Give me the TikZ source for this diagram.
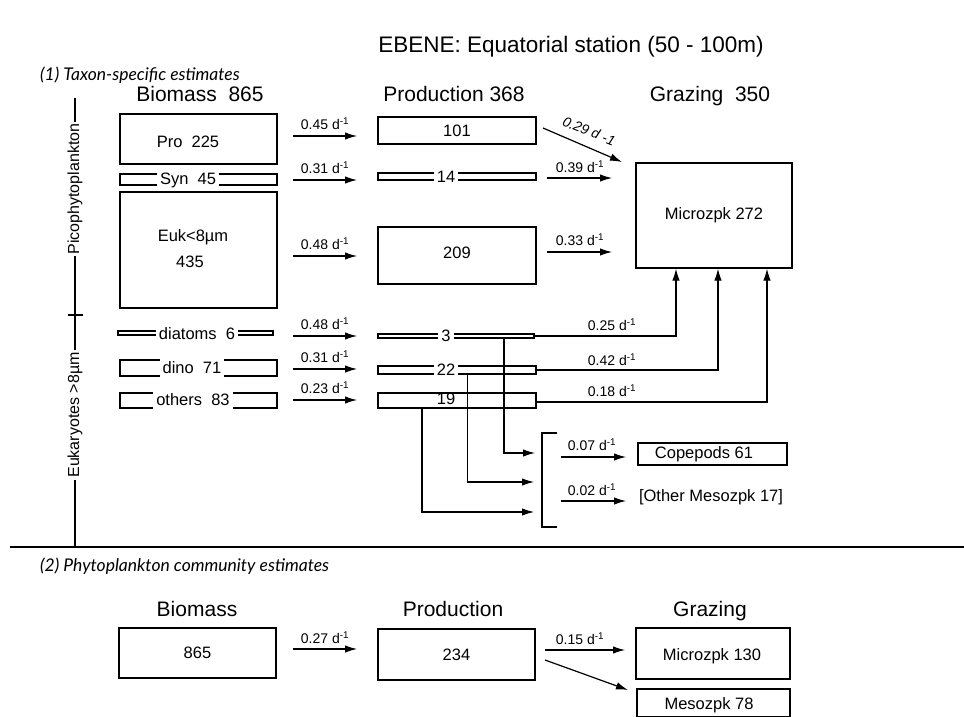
\documentclass[tikz,border=0pt]{standalone}
\usepackage{fontspec}
\setmainfont{Liberation Sans}
\newfontfamily\capfont{Lato}
\usetikzlibrary{arrows.meta,calc}
\newcommand{\ratelbl}[1]{#1 d\textsuperscript{-1}}
\begin{document}
\begin{tikzpicture}[x=1pt,y=-1pt,
  box/.style={draw,line width=1.2pt,inner sep=0pt},
  hdr/.style={font=\fontsize{21}{24}\selectfont, inner sep=0pt, anchor=base},
  body/.style={font=\fontsize{16.5}{19}\selectfont, inner sep=0pt},
  gap/.style={font=\fontsize{16.5}{19}\selectfont, fill=white, inner xsep=3pt, inner ysep=4pt},
  rt/.style={font=\fontsize{14}{16}\selectfont, inner sep=0pt},
  arr/.style={line width=1.2pt, -{Latex[length=12pt,width=7.5pt]}},
  ln/.style={line width=1.2pt},
  sect/.style={font=\capfont\itshape\fontsize{17.5}{20}\selectfont, anchor=west, inner sep=0pt}
]
\path[use as bounding box] (0,0) rectangle (964,717);

% titles
\node[hdr, font=\fontsize{22.5}{26}\selectfont] (title) at (571,53) {EBENE: Equatorial station (50 - 100m)};
\node[sect] (s1) at (40,75) {(1) Taxon-specific estimates};
\node[hdr] (hb) at (200,101) {Biomass\ \ 865};
\node[hdr] (hp) at (454,101) {Production 368};
\node[hdr] (hg) at (710,101) {Grazing\ \ 350};

% left axis
\draw[ln] (75,98) -- (75,547);
\draw[ln] (68,315) -- (83,315);
\node[body, rotate=90, fill=white, inner sep=2pt, font=\fontsize{16}{19}\selectfont] (pico) at (75,189) {Picophytoplankton};
\node[body, rotate=90, fill=white, inner sep=2pt, font=\fontsize{16}{19}\selectfont] (euka) at (75,415) {Eukaryotes >8µm};

% biomass boxes
\node[box, minimum width=157pt, minimum height=50pt] (pro) at (198.5,139) {};
\node[body] (protx) at (188,142) {Pro\ \ 225};
\node[box, minimum width=157pt, minimum height=11pt] (syn) at (198.5,179.5) {};
\node[gap] (syntx) at (188,180) {Syn\ \ 45};
\node[box, minimum width=157pt, minimum height=116pt] (euk) at (198.5,250) {};
\node[body] (euktx) at (193,237) {Euk<8µm};
\node[body] (euknum) at (190,262) {435};
\node[box, minimum width=155pt, minimum height=4pt] (diat) at (195.5,333) {};
\node[gap] (diattx) at (197,334) {diatoms\ \ 6};
\node[box, minimum width=157pt, minimum height=16pt] (dino) at (198.5,368) {};
\node[gap] (dinotx) at (192,368) {dino\ \ 71};
\node[box, minimum width=157pt, minimum height=15pt] (oth) at (198.5,400.5) {};
\node[gap] (othtx) at (193,400) {others\ \ 83};

% production boxes
\node[box, minimum width=158pt, minimum height=27pt] (p101) at (457,130.5) {};
\node[body] (p101tx) at (457,131) {101};
\node[box, minimum width=158pt, minimum height=7pt] (p14) at (457,176.5) {};
\node[gap] (p14tx) at (446,177) {14};
\node[box, minimum width=158pt, minimum height=57pt] (p209) at (457,255.5) {};
\node[body] (p209tx) at (457,253) {209};
\node[box, minimum width=156pt, minimum height=4pt] (p3) at (456,336) {};
\node[gap] (p3tx) at (446,336) {3};
\node[box, minimum width=158pt, minimum height=8pt] (p22) at (457,370) {};
\node[gap] (p22tx) at (446,370) {22};
\node[box, minimum width=158pt, minimum height=15pt] (p19) at (457,400.5) {};
\node[body] (p19tx) at (446,399) {19};

% biomass -> production arrows
\foreach \y/\r/\n in {136/0.45/a,180/0.31/b,256/0.48/c,336/0.48/d,369/0.31/e,400/0.23/f}{
  \coordinate (l\n s) at (293,\y);
  \coordinate (l\n e) at (357,\y);
  \draw[arr] (l\n s) -- (l\n e);
  \node[rt] (lr\n) at (325,\y-12) {\ratelbl{\r}};
}

% microzooplankton
\node[box, minimum width=156pt, minimum height=105pt, body] (mz) at (714,215.5) {Microzpk 272};

% production -> grazing arrows
\coordinate (d1s) at (543,128);
\coordinate (d1e) at (622,162);
\draw[arr] (d1s) -- (d1e);
\node[rt, rotate=-22] (d1l) at (589,131) {\itshape 0.29 d -1};
\coordinate (d2s) at (547,178);
\coordinate (d2e) at (612,178);
\draw[arr] (d2s) -- (d2e);
\node[rt] (d2l) at (580,167) {\ratelbl{0.39}};
\coordinate (d3s) at (547,252);
\coordinate (d3e) at (612,252);
\draw[arr] (d3s) -- (d3e);
\node[rt] (d3l) at (580,240) {\ratelbl{0.33}};

% up into Microzpk
\draw[arr] (p3.east) -| ([xshift=-38pt]mz.south);
\draw[arr] (p22.east) -| ([xshift=4pt]mz.south);
\draw[arr] ([yshift=-1.5pt]p19.east) -| ([xshift=53pt]mz.south);
\node[rt] (u1l) at (612,325) {\ratelbl{0.25}};
\node[rt] (u2l) at (612,360) {\ratelbl{0.42}};
\node[rt] (u3l) at (612,391) {\ratelbl{0.18}};

% down to mesozooplankton
\coordinate (m1) at (535,453);
\coordinate (m2) at (534,482);
\coordinate (m3) at (534,512);
\draw[arr] ([xshift=48pt]p3.south) |- (m1);
\draw[arr] ([xshift=10.5pt]p22.south) |- (m2);
\draw[arr] ([xshift=-35pt]p19.south) |- (m3);
\coordinate (bt) at (557,433);
\coordinate (bb) at (557,527);
\draw[ln] (bt) -- (542,433) -- (542,527) -- (bb);

\node[box, minimum width=149pt, minimum height=22pt] (cop) at (712.5,454) {};
\node[body] (coptx) at (704,454) {Copepods 61};
\coordinate (c1s) at (561,457);
\coordinate (c1e) at (626,457);
\draw[arr] (c1s) -- (c1e);
\node[rt] (c1l) at (592,445) {\ratelbl{0.07}};
\node[body] (om) at (711,497) {[Other Mesozpk 17]};
\coordinate (c2s) at (561,501);
\coordinate (c2e) at (626,501);
\draw[arr] (c2s) -- (c2e);
\node[rt] (c2l) at (592,490) {\ratelbl{0.02}};

% separator
\draw[ln] (10,547) -- (964,547);

% section 2
\node[sect] (s2) at (40,566) {(2) Phytoplankton community estimates};
\node[hdr] (hb2) at (197,616) {Biomass};
\node[hdr] (hp2) at (453,616) {Production};
\node[hdr] (hg2) at (710,616) {Grazing};
\node[box, body, minimum width=157pt, minimum height=50pt] (b865) at (197.5,653) {865};
\node[box, body, minimum width=157pt, minimum height=51pt] (p234) at (456.5,654.5) {234};
\node[box, minimum width=154pt, minimum height=51pt] (mz130) at (713,653.5) {};
\node[body] (mz130tx) at (712,656) {Microzpk 130};
\node[box, minimum width=153pt, minimum height=28pt] (mz78) at (713.5,703) {};
\node[body] (mz78tx) at (709,705) {Mesozpk 78};
\coordinate (e1s) at (293,649);
\coordinate (e1e) at (357,649);
\draw[arr] (e1s) -- (e1e);
\node[rt] (e1l) at (325,638) {\ratelbl{0.27}};
\coordinate (e2s) at (545,650);
\coordinate (e2e) at (625,650);
\draw[arr] (e2s) -- (e2e);
\node[rt] (e2l) at (580,639) {\ratelbl{0.15}};
\coordinate (e3s) at (545,660);
\coordinate (e3e) at (628,690);
\draw[arr] (e3s) -- (e3e);
\end{tikzpicture}
\end{document}
